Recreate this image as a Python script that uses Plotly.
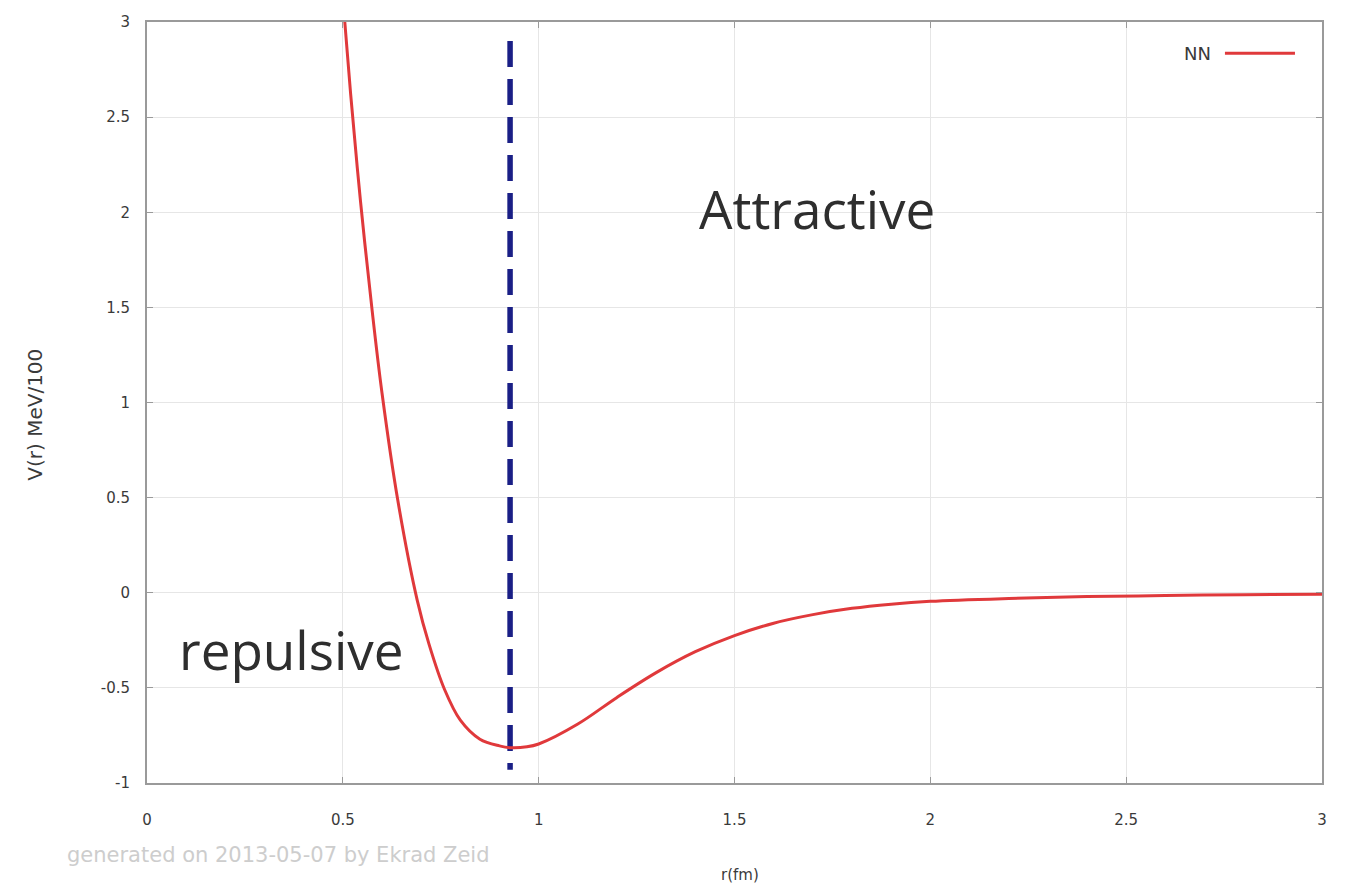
import plotly.graph_objects as go

# Potential V(r)
r_fm = [0.505, 0.52, 0.545, 0.575, 0.60, 0.64, 0.69, 0.72, 0.76, 0.80, 0.85, 0.90,
        0.93, 0.97, 1.0, 1.1, 1.2, 1.3, 1.4, 1.5, 1.6, 1.7, 1.8, 1.9, 2.0, 2.2,
        2.4, 2.6, 2.8, 3.0]
v_nn = [3.0, 2.62, 2.06, 1.48, 1.05, 0.49, -0.04, -0.27, -0.51, -0.67, -0.77, -0.805,
        -0.815, -0.81, -0.795, -0.69, -0.55, -0.42, -0.31, -0.225, -0.16, -0.115,
        -0.082, -0.06, -0.045, -0.03, -0.02, -0.015, -0.01, -0.008]

r_min = [0.927, 0.927]
v_min_span = [2.9, -0.93]

x_ticks = [0, 0.5, 1, 1.5, 2, 2.5, 3]
x_tick_text = ["0", "0.5", "1", "1.5", "2", "2.5", "3"]
y_ticks = [-1, -0.5, 0, 0.5, 1, 1.5, 2, 2.5, 3]
y_tick_text = ["-1", "-0.5", "0", "0.5", "1", "1.5", "2", "2.5", "3"]

fig = go.Figure()
fig.add_trace(go.Scatter(x=r_min, y=v_min_span, mode="lines",
                         line=dict(color="#1a1f86", width=5.5, dash="26px,12px"),
                         showlegend=False, hoverinfo="skip"))
fig.add_trace(go.Scatter(x=r_fm, y=v_nn, mode="lines", name="NN",
                         line=dict(color="#e0393b", width=3, shape="spline", smoothing=1.0),
                         showlegend=False))

tick_font = dict(family="DejaVu Sans, sans-serif", size=15, color="#3a3a3a")
axis_common = dict(showgrid=True, gridcolor="#e6e6e6", gridwidth=1,
                   showline=True, linecolor="#9a9a9a", linewidth=2, mirror="ticks",
                   ticks="inside", ticklen=6, tickcolor="#9a9a9a",
                   tickfont=tick_font,
                   zeroline=False, automargin=False)

fig.update_layout(
    width=1337, height=878,
    margin=dict(l=139, r=23, t=14, b=103),
    paper_bgcolor="white", plot_bgcolor="white",
    font=dict(family="DejaVu Sans, sans-serif", color="#333333"),
    xaxis=dict(range=[0, 3], tickvals=x_ticks, ticktext=x_tick_text,
               ticklabelstandoff=22, **axis_common),
    yaxis=dict(range=[-1, 3], tickvals=y_ticks, ticktext=y_tick_text,
               ticklabelstandoff=12, **axis_common),
    annotations=[
        dict(x=1.71, y=2.02, xref="x", yref="y", text="Attractive", showarrow=False,
             font=dict(family="Open Sans, sans-serif", size=53, color="#2e2e2e")),
        dict(x=0.37, y=-0.3, xref="x", yref="y", text="repulsive", showarrow=False,
             font=dict(family="Open Sans, sans-serif", size=53, color="#2e2e2e")),
        dict(x=0.907, y=0.959, xref="paper", yref="paper", text="NN", showarrow=False,
             xanchor="right", yanchor="middle", font=dict(size=18, color="#3a3a3a")),
        dict(x=-0.07, y=-0.0946, xref="paper", yref="paper", text="generated on 2013-05-07 by Ekrad Zeid",
             showarrow=False, xanchor="left", yanchor="middle",
             font=dict(size=21, color="#cdcdcd")),
        dict(x=0.505, y=-0.121, xref="paper", yref="paper", text="r(fm)", showarrow=False,
             xanchor="center", yanchor="middle", font=dict(size=15, color="#3a3a3a")),
        dict(x=-0.0953, y=0.484, xref="paper", yref="paper", text="V(r) MeV/100", showarrow=False,
             xanchor="center", yanchor="middle", textangle=-90,
             font=dict(size=20, color="#3a3a3a")),
    ],
    shapes=[
        dict(type="line", xref="paper", yref="paper", x0=0.9174, x1=0.977, y0=0.959, y1=0.959,
             line=dict(color="#e0393b", width=3)),
    ],
)

fig.write_html("out.html")
